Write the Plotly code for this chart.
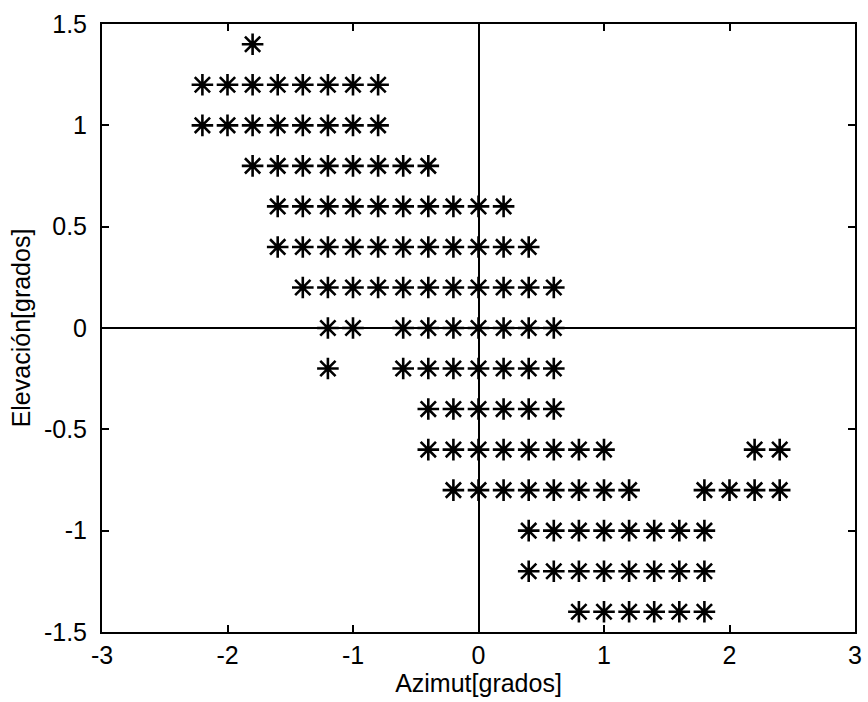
import plotly.graph_objects as go

# Elevation rows (degrees) and the azimuth positions (degrees) sampled on each row
elevaciones = [1.4, 1.2, 1.0, 0.8, 0.6, 0.4, 0.2, 0.0, -0.2, -0.4, -0.6, -0.8, -1.0, -1.2, -1.4]
azimuts_por_fila = [
    [-1.8],
    [-2.2, -2.0, -1.8, -1.6, -1.4, -1.2, -1.0, -0.8],
    [-2.2, -2.0, -1.8, -1.6, -1.4, -1.2, -1.0, -0.8],
    [-1.8, -1.6, -1.4, -1.2, -1.0, -0.8, -0.6, -0.4],
    [-1.6, -1.4, -1.2, -1.0, -0.8, -0.6, -0.4, -0.2, 0.0, 0.2],
    [-1.6, -1.4, -1.2, -1.0, -0.8, -0.6, -0.4, -0.2, 0.0, 0.2, 0.4],
    [-1.4, -1.2, -1.0, -0.8, -0.6, -0.4, -0.2, 0.0, 0.2, 0.4, 0.6],
    [-1.2, -1.0, -0.6, -0.4, -0.2, 0.0, 0.2, 0.4, 0.6],
    [-1.2, -0.6, -0.4, -0.2, 0.0, 0.2, 0.4, 0.6],
    [-0.4, -0.2, 0.0, 0.2, 0.4, 0.6],
    [-0.4, -0.2, 0.0, 0.2, 0.4, 0.6, 0.8, 1.0, 2.2, 2.4],
    [-0.2, 0.0, 0.2, 0.4, 0.6, 0.8, 1.0, 1.2, 1.8, 2.0, 2.2, 2.4],
    [0.4, 0.6, 0.8, 1.0, 1.2, 1.4, 1.6, 1.8],
    [0.4, 0.6, 0.8, 1.0, 1.2, 1.4, 1.6, 1.8],
    [0.8, 1.0, 1.2, 1.4, 1.6, 1.8],
]

x_ticks = [-3, -2, -1, 0, 1, 2, 3]
y_ticks = [-1.5, -1, -0.5, 0, 0.5, 1, 1.5]
y_tick_text = ["-1.5", "-1", "-0.5", "0", "0.5", "1", "1.5"]

xs, ys = [], []
for elev, fila in zip(elevaciones, azimuts_por_fila):
    xs.extend(fila)
    ys.extend([elev] * len(fila))

fuente = "Liberation Sans, Arial, sans-serif"

fig = go.Figure(
    go.Scatter(
        x=xs,
        y=ys,
        mode="markers",
        marker=dict(symbol="asterisk-open", size=18, color="black",
                    line=dict(color="black", width=2.6)),
        hoverinfo="x+y",
    )
)

eje = dict(
    showgrid=False,
    zeroline=True,
    zerolinecolor="black",
    zerolinewidth=1.5,
    showline=True,
    linecolor="black",
    linewidth=2,
    mirror="ticks",
    ticks="inside",
    ticklen=7,
    tickwidth=1.5,
    tickcolor="black",
    tickfont=dict(family=fuente, size=25, color="black"),
)

fig.update_xaxes(
    **eje,
    range=[-3, 3],
    tickvals=x_ticks,
    ticktext=[str(v) for v in x_ticks],
    title=dict(text="Azimut[grados]", font=dict(family=fuente, size=25, color="black"), standoff=2),
)
fig.update_yaxes(
    **eje,
    range=[-1.5, 1.5],
    tickvals=y_ticks,
    ticktext=y_tick_text,
    ticklabelstandoff=8,
    title=dict(text="Elevación[grados]", font=dict(family=fuente, size=25, color="black"), standoff=6),
)

fig.update_layout(
    width=868,
    height=702,
    margin=dict(l=102, r=6, t=24, b=70),
    paper_bgcolor="white",
    plot_bgcolor="white",
    showlegend=False,
)

fig.write_html("out.html")
